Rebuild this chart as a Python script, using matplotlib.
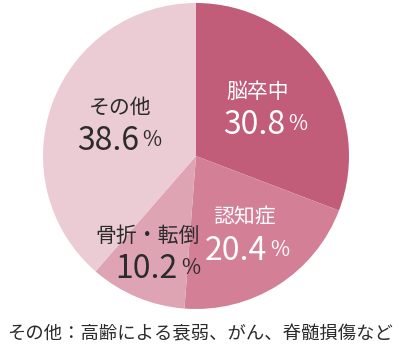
import matplotlib
matplotlib.use("Agg")
import matplotlib.pyplot as plt

plt.rcParams['font.family'] = ['Noto Sans CJK JP', 'DejaVu Sans']

# data
labels = ["脳卒中", "認知症", "骨折・転倒", "その他"]
shares = [30.8, 20.4, 10.2, 38.6]
colors = ["#C15C79", "#D38097", "#DFA4B3", "#EBCCD4"]
text_colors = ["white", "white", "#2b2b2b", "#2b2b2b"]
note = "その他：高齢による衰弱、がん、脊髄損傷など"

# label anchor positions in pixels (x, y from top): name line, number line
name_pos = [(258, 92), (245, 217), (148, 236), (120, 108)]
num_pos = [(285, 125), (267, 251), (178, 269), (139, 141)]

H = 358
fig = plt.figure(figsize=(4.0, 3.58), dpi=100)
ax = fig.add_axes([0, 0, 1, 1])

ax.pie(shares, colors=colors, startangle=90, counterclock=False,
       center=(196, H - 156), radius=153, frame=True,
       wedgeprops=dict(linewidth=0))
ax.set_xlim(0, 400)
ax.set_ylim(0, H)
ax.set_aspect("equal")
ax.axis("off")

for i, lab in enumerate(labels):
    nx, ny = name_pos[i]
    ax.text(nx, H - ny, lab, ha="center", va="center", fontsize=15,
            color=text_colors[i])
    mx, my = num_pos[i]
    ax.text(mx, H - my, f"{shares[i]:.1f}", ha="right", va="center",
            fontsize=23, color=text_colors[i])
    ax.text(mx + 3, H - my + 1, "%", ha="left", va="center",
            fontsize=15, color=text_colors[i])

ax.text(200, H - 334, note, ha="center", va="center", fontsize=13.2,
        color="#2b2b2b")

fig.savefig("out.png", dpi=100)
